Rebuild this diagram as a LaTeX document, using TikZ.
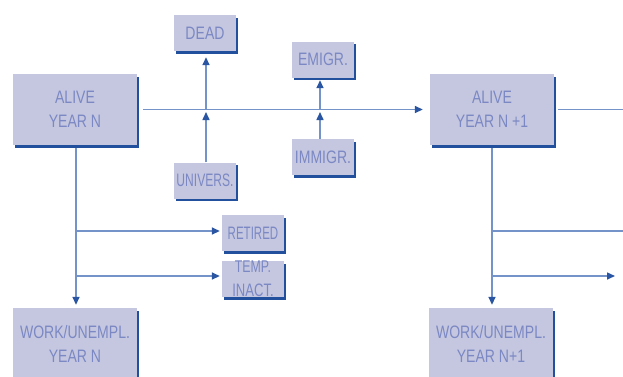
\documentclass[tikz,border=0pt]{standalone}
\usepackage{graphicx}
\usepackage{fontspec}
\setmainfont[FakeStretch=0.78]{Liberation Sans}
\usetikzlibrary{arrows.meta,shadows}
\definecolor{boxfill}{HTML}{C5C7E0}
\definecolor{boxtext}{HTML}{7B88C3}
\definecolor{shadowc}{HTML}{22509C}
\definecolor{linec}{HTML}{7393C9}
\definecolor{tipc}{HTML}{2A55A2}
\begin{document}
\begin{tikzpicture}[x=1pt,y=-1pt,
  basebox/.style={fill=boxfill, text=boxtext, inner sep=0pt, align=center,
    font=\fontsize{18}{24}\selectfont,
    drop shadow={shadow xshift=2pt, shadow yshift=-2.5pt, fill=shadowc, opacity=1}},
  bigbox/.style={basebox, minimum width=124pt, minimum height=71pt},
  smallbox/.style={basebox, minimum width=62pt, minimum height=36pt},
  conn/.style={draw=linec, line width=1.5pt},
  arr/.style={conn, -{Triangle[length=8pt,width=7pt,color=tipc]}}]
\useasboundingbox (0,0) rectangle (623,376);
\clip (0,0) rectangle (623,376);
% nodes
\node[bigbox] (aliveN) at (75,109.5) {ALIVE\\YEAR N};
\node[bigbox] (aliveM) at (492,109.5) {ALIVE\\YEAR N +1};
\node[smallbox] (dead) at (205,33) {DEAD};
\node[smallbox] (emig) at (323,59.5) {EMIGR.};
\node[smallbox] (univ) at (205,180.5) {\scalebox{0.86}[1]{UNIVERS.}};
\node[smallbox] (immig) at (323,157) {IMMIGR.};
\node[smallbox] (retired) at (253,233) {\scalebox{0.82}[1]{RETIRED}};
\node[smallbox] (temp) at (253,279) {\fontsize{17}{19}\selectfont\scalebox{0.93}[1]{TEMP.}\\\scalebox{0.93}[1]{INACT.}};
\node[bigbox] (workN) at (75,343.5) {WORK/UNEMPL.\\YEAR N};
\node[bigbox] (workM) at (491,343.5) {WORK/UNEMPL.\\YEAR N+1};
% junction coordinates
\coordinate (jd) at (206,109.5);
\coordinate (je) at (320,109.5);
\coordinate (b1) at (76,231);
\coordinate (b2) at (76,276);
\coordinate (b3) at (492,231);
\coordinate (b4) at (492,276);
\coordinate (edgeA) at (623,109.5);
\coordinate (edgeB) at (623,231);
\coordinate (edgeC) at (615,276);
% main horizontal
\draw[arr, shorten <=6pt, shorten >=7pt] (aliveN.east) -- (aliveM.west);
\draw[conn, shorten <=4pt] (aliveM.east) -- (edgeA);
% up arrows
\draw[arr, shorten >=6pt] (jd) -- (jd |- dead.south);
\draw[arr, shorten >=2.5pt] (jd |- univ.north) -- (jd);
\draw[arr, shorten >=2.5pt] (je) -- (je |- emig.south);
\draw[arr, shorten >=2.5pt] (je |- immig.north) -- (je);
% left verticals
\draw[arr, shorten <=2.5pt, shorten >=3pt] (aliveN.south -| b1) -- (workN.north -| b1);
\draw[arr, shorten >=2pt] (b1) -- (b1 -| retired.west);
\draw[arr, shorten >=2pt] (b2) -- (b2 -| temp.west);
% right verticals
\draw[arr, shorten <=2.5pt, shorten >=3pt] (aliveM.south) -- (aliveM.south |- workM.north);
\draw[conn] (b3) -- (edgeB);
\draw[arr] (b4) -- (edgeC);
\end{tikzpicture}
\end{document}
